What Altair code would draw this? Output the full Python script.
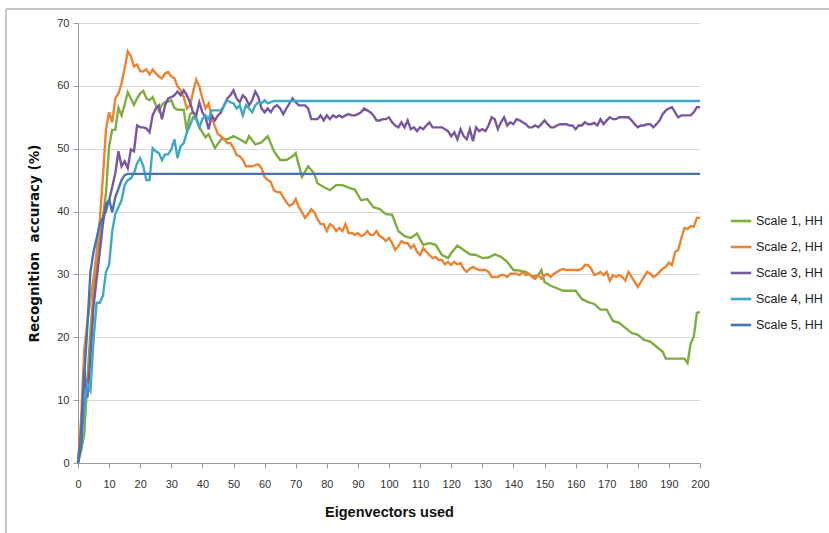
import altair as alt
import pandas as pd

# ---------------- data ----------------
series_names = ["Scale 1, HH", "Scale 2, HH", "Scale 3, HH", "Scale 4, HH", "Scale 5, HH"]

s1_x = [0, 1, 2, 3, 4, 5, 6, 7, 8, 9, 10, 11, 12, 13, 14, 15, 16, 17, 18, 19, 20, 21, 22, 23, 24, 25,
        26, 27, 28, 29, 30, 31, 32, 33, 34, 35, 36, 37, 38, 39, 40, 41, 42, 44, 46, 48, 50, 52, 54, 55,
        57, 59, 61, 63, 65, 67, 69, 70, 72, 74, 76, 77, 79, 81, 83, 85, 87, 89, 91, 93, 95, 97, 99, 101,
        103, 105, 107, 109, 111, 113, 115, 117, 119, 120, 122, 124, 126, 128, 130, 132, 134, 136, 138,
        140, 142, 144, 146, 148, 149, 150, 152, 154, 156, 158, 160, 162, 164, 166, 168, 170, 172, 174,
        176, 178, 180, 182, 184, 186, 188, 189, 195, 196, 197, 198, 199, 200]
s1_y = [0, 2, 4.5, 13, 21, 27, 32, 36, 39, 43, 50.4, 53, 53, 56.5, 55.3, 57, 59, 58, 57, 58, 58.8, 59.2,
        58, 57.7, 58.2, 57, 56, 57, 57.4, 57.5, 57.7, 56.5, 56.2, 56.2, 56.2, 52.8, 55.5, 55.8, 55, 53.5,
        52.6, 51.8, 52.3, 50.1, 51.5, 51.5, 52, 51.5, 50.9, 52, 50.7, 51, 52, 49.6, 48.2, 48.2, 48.8,
        49.3, 45.5, 47.2, 46, 44.5, 43.9, 43.4, 44.2, 44.2, 43.8, 43.5, 41.8, 42, 40.7, 40.4, 39.6, 39.5,
        36.9, 36.1, 35.8, 36.5, 34.7, 35, 34.7, 33.1, 32.6, 33.4, 34.6, 33.9, 33.2, 33.1, 32.6, 32.7,
        33.2, 32.8, 32, 30.7, 30.6, 30.4, 29.7, 29.9, 30.7, 28.8, 28.2, 27.8, 27.4, 27.4, 27.4, 26.1,
        25.6, 25.3, 24.4, 24.4, 22.6, 22.3, 21.5, 20.7, 20.4, 19.6, 19.3, 18.5, 17.7, 16.6, 16.6, 15.9,
        19, 20.1, 23.9, 24]

s2_x = list(range(0, 201))
s2_y = [0, 7, 18, 22.3, 26, 29.3, 33.6, 38.5, 45.5, 53.1, 55.8, 54.2, 58, 58.8, 60.4, 62.8, 65.5, 64.7,
        63.1, 63.4, 62.3, 62.3, 62.6, 61.8, 62.6, 62, 61.5, 61.2, 62, 62.2, 61.5, 61.2, 59.9, 59.3, 58.2,
        56.4, 56.9, 59, 61, 59.9, 58, 56.4, 57.2, 55, 53.6, 52.3, 52, 51.5, 50.9, 50.9, 50.1, 49, 48.8,
        48.2, 47.2, 47.2, 47.2, 47.4, 47.5, 46.9, 45.5, 45, 44.7, 43.4, 43.1, 43.1, 42.3, 41.5, 40.9,
        41.2, 42, 40.7, 39.9, 39, 39.6, 40.4, 39.9, 38.8, 38, 38, 36.9, 38, 37.7, 36.9, 37.4, 36.9, 38,
        36.6, 36.6, 36.3, 36.6, 36.1, 36.3, 36.9, 36.3, 36.3, 36.9, 36.1, 35.8, 35.3, 35.8, 35, 33.9,
        34.5, 35.3, 35, 35, 34.2, 34.7, 33.6, 33.1, 34.2, 33.6, 33.1, 32.6, 32.8, 32.3, 32.3, 31.6, 32,
        31.5, 32, 31.6, 31.8, 30.9, 30.4, 30.9, 31.2, 30.9, 30.7, 30.7, 30.7, 30.4, 29.6, 29.6, 29.6,
        29.9, 29.9, 29.6, 30.1, 30.1, 30.1, 29.9, 30.4, 29.9, 30.1, 29.6, 29.3, 29.9, 29.3, 29.9, 30.1,
        29.6, 30.1, 30.4, 30.7, 30.9, 30.7, 30.7, 30.7, 30.7, 30.7, 30.9, 31.5, 31.5, 30.9, 29.9, 30.1,
        30.4, 29.9, 30.4, 29, 29.9, 29.6, 29.9, 29.6, 29, 30.4, 29.6, 28.8, 28, 28.8, 29.6, 30.4, 30.1,
        29.6, 29.9, 30.4, 30.9, 31.2, 31.9, 31.5, 33.6, 33.9, 35.8, 37.4, 37.2, 37.7, 37.6, 39, 39]

s3_x = list(range(0, 201))
s3_y = [0, 5, 14.7, 10.4, 16.9, 25, 29.3, 33.6, 38, 41.2, 41.8, 43.9, 46.1, 49.6, 47.2, 48, 46.9, 49.9,
        49.6, 53.7, 53.4, 53.4, 53.2, 52.6, 55.3, 56.4, 56.9, 54.7, 56.9, 58, 58.2, 58.5, 59.1, 58.5,
        59.3, 58.5, 57.4, 55.8, 55.3, 57.4, 55.8, 55, 53.1, 55.3, 54.5, 55.3, 55.8, 56.9, 58, 58.5, 59.3,
        58, 57.4, 58.5, 58, 56.9, 57.7, 59.1, 58.2, 56.4, 55.8, 56.4, 55.8, 56.6, 56.9, 56.4, 55.5, 56.4,
        57.2, 58, 57.4, 56.9, 56.9, 56.9, 56.4, 54.7, 54.7, 54.7, 55.3, 54.5, 55.3, 54.7, 55.3, 55, 55.3,
        55, 55.3, 55.5, 55.3, 55.3, 55.5, 55.8, 56.4, 56.1, 55.8, 55.3, 54.5, 54.5, 54.7, 54.7, 55, 54.2,
        53.7, 53.4, 54.2, 53.4, 54.5, 53.1, 53.4, 52.8, 53.4, 53.1, 53.7, 54.2, 53.4, 53.4, 53.4, 53.4,
        53.1, 52.8, 52, 52.6, 51.5, 53.1, 52, 51.5, 53.1, 51.2, 53.4, 52.8, 53.1, 52.8, 53.7, 55, 54.7,
        53.1, 54.2, 55, 53.7, 54.2, 53.9, 54.7, 54.5, 54.2, 53.9, 53.4, 53.4, 53.7, 53.4, 53.9, 54.5,
        53.9, 53.4, 53.4, 53.7, 53.9, 53.9, 53.9, 53.7, 53.7, 53.1, 53.7, 53.7, 54.2, 53.9, 53.9, 54.1,
        53.7, 54.7, 53.9, 54.5, 55, 54.7, 54.7, 55, 55, 55, 55, 54.5, 53.9, 53.4, 53.7, 53.7, 53.9, 53.9,
        53.4, 53.9, 54.5, 55.5, 56.1, 56.4, 56.6, 55.8, 55, 55.3, 55.3, 55.3, 55.3, 55.8, 56.6, 56.6]

s4_x = list(range(0, 64)) + [200]
s4_y = [0, 3, 8.8, 12.5, 11.5, 19.6, 25.5, 25.5, 26.6, 30.4, 31.5, 36.9, 39.6, 40.7, 41.8, 44.2, 45,
        45.3, 46.1, 47.7, 48.5, 47.2, 45, 45, 50.1, 49.6, 49.3, 48.2, 49.1, 49.1, 49.9, 51.5, 48.5, 50.4,
        50.9, 52.6, 53.7, 55, 54.7, 53.4, 54.7, 55.3, 54.7, 56.1, 56.1, 56.1, 56.1, 56.9, 57.7, 57.4,
        57.2, 56.4, 56.9, 55.3, 56.9, 56.4, 55.8, 56.9, 57.4, 57.2, 57.7, 57.2, 57.4, 57.6, 57.6]

s5_x = list(range(0, 17)) + [200]
s5_y = [0, 3, 13.6, 21.7, 30.4, 33.6, 35.8, 38, 39, 40.1, 42, 39.9, 42.3, 43.6, 45, 45.8, 46, 46]

x_ticks = list(range(0, 201, 10))
y_ticks = list(range(0, 71, 10))
colors = ["#80AD40", "#EC8533", "#7A58A0", "#3FA8C4", "#4673B5"]

# ---------------- build table ----------------
rows = []
for name, xs, ys in zip(series_names,
                        [s1_x, s2_x, s3_x, s4_x, s5_x],
                        [s1_y, s2_y, s3_y, s4_y, s5_y]):
    for xv, yv in zip(xs, ys):
        rows.append({"series": name, "x": xv, "y": yv})
df = pd.DataFrame(rows)

FONT = "Liberation Sans"

lines = alt.Chart(df).mark_line(strokeWidth=2.4, clip=False).encode(
    x=alt.X("x:Q",
            scale=alt.Scale(domain=[0, 200], nice=False, zero=True),
            axis=alt.Axis(values=x_ticks, title="Eigenvectors used", grid=False,
                          labelFont=FONT, labelFontSize=11, labelColor="#333333",
                          tickSize=5, tickColor="#9a9a9a", domainColor="#9a9a9a",
                          labelPadding=10, titleFont=FONT, titleFontSize=14.5,
                          titleFontWeight="bold", titleColor="#111111", titlePadding=16,
                          labelFlush=False)),
    y=alt.Y("y:Q",
            scale=alt.Scale(domain=[0, 70], nice=False),
            axis=alt.Axis(values=y_ticks, title="Recognition\u00a0\u00a0accuracy (%)", grid=True,
                          gridColor="#d9d9d9", gridWidth=1.2,
                          labelFont=FONT, labelFontSize=11, labelColor="#333333",
                          tickSize=5, tickColor="#9a9a9a", domainColor="#9a9a9a",
                          labelPadding=4, titleFont="DejaVu Sans", titleFontSize=13.5,
                          titleFontWeight="bold", titleColor="#111111", titlePadding=15)),
    color=alt.Color("series:N",
                    scale=alt.Scale(domain=series_names, range=colors),
                    legend=alt.Legend(title=None, orient="none", legendX=651, legendY=186,
                                      symbolType="stroke", symbolSize=420,
                                      symbolStrokeWidth=2.6, labelFont=FONT,
                                      labelFontSize=12.5, labelColor="#222222",
                                      rowPadding=7, labelOffset=3, padding=0)),
    order=alt.Order("x:Q"),
)

frame_top = alt.Chart(df).mark_rule(color="#c4c4c4", strokeWidth=1.5).encode(
    x=alt.value(-72), x2=alt.value(751), y=alt.value(-14))
frame_left = alt.Chart(df).mark_rule(color="#c4c4c4", strokeWidth=1.5).encode(
    x=alt.value(-72), y=alt.value(-14), y2=alt.value(510))

chart = alt.layer(frame_top, frame_left, lines).properties(
    width=622, height=440,
    padding={"left": 78, "top": 23, "right": 129, "bottom": 70},
    autosize=alt.AutoSizeParams(type="none"),
    background="white",
).configure_view(stroke=None)

chart.save("out.html", embed_options={"renderer": "svg", "actions": False})
